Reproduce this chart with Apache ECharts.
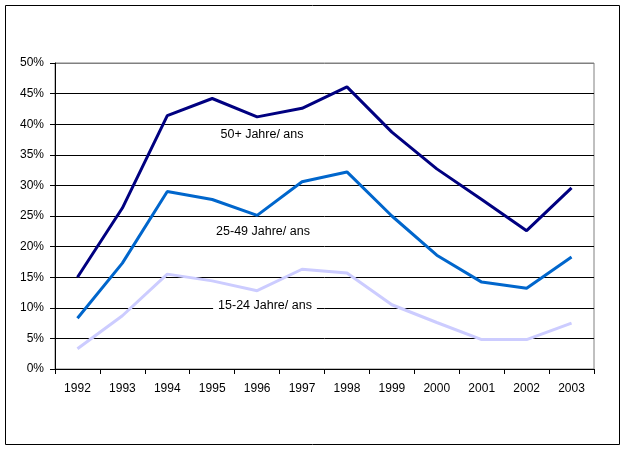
<!DOCTYPE html>
<html><head><meta charset="utf-8">
<script src="https://cdn.jsdelivr.net/npm/echarts@6/dist/echarts.min.js"></script>
<style>html,body{margin:0;padding:0;background:#fff}#c{width:626px;height:451px}</style>
</head><body><div id="c"></div>
<script>
const years = ['1992','1993','1994','1995','1996','1997','1998','1999','2000','2001','2002','2003'];
const age50 = [15.0,26.3,41.4,44.2,41.2,42.6,46.1,38.7,32.7,27.7,22.6,29.6];
const age25 = [8.3,17.3,29.0,27.7,25.1,30.6,32.2,25.0,18.6,14.2,13.2,18.3];
const age15 = [3.3,8.7,15.5,14.4,12.8,16.3,15.7,10.5,7.6,4.8,4.8,7.5];
const seriesNames = ['50+ Jahre/ ans','25-49 Jahre/ ans','15-24 Jahre/ ans'];

const chart = echarts.init(document.getElementById('c'));
const font = 'Liberation Sans, Arial, sans-serif';
const gridColors = ['#000','#000','#000','#000','#000','#000','#000','#000','#000','#000','#808080'];
chart.setOption({
  animation:false,
  grid:{left:55,right:32,top:63,bottom:82,show:true,borderColor:'#808080',borderWidth:1,backgroundColor:'#fff'},
  xAxis:{type:'category',data:years,boundaryGap:true,
    axisLine:{lineStyle:{color:'#000',width:1}},
    axisTick:{show:true,length:5,lineStyle:{color:'#000'}},
    axisLabel:{color:'#000',fontFamily:font,fontSize:12,margin:14}},
  yAxis:{type:'value',min:0,max:50,interval:5,
    axisLine:{show:true,lineStyle:{color:'#000',width:1}},
    axisTick:{show:true,length:5,lineStyle:{color:'#000'}},
    axisLabel:{color:'#000',fontFamily:font,fontSize:12,margin:11,formatter:'{value}%'},
    splitLine:{show:true,lineStyle:{color:gridColors,width:1}}},
  series:[
    {name:seriesNames[0],type:'line',data:age50,symbol:'none',lineStyle:{color:'#000080',width:3},z:4},
    {name:seriesNames[1],type:'line',data:age25,symbol:'none',lineStyle:{color:'#0066CC',width:3},z:3},
    {name:seriesNames[2],type:'line',data:age15,symbol:'none',lineStyle:{color:'#CCCCFF',width:3},z:2}
  ],
  graphic:[
    {type:'rect',shape:{x:5.5,y:5.5,width:614,height:439},style:{fill:'none',stroke:'#000',lineWidth:1},z:100},
    {type:'text',x:262,y:135,style:{text:seriesNames[0],font:'12.5px '+font,fill:'#000',textAlign:'center',textVerticalAlign:'middle'},z:100},
    {type:'text',x:263,y:232,style:{text:seriesNames[1],font:'12.5px '+font,fill:'#000',textAlign:'center',textVerticalAlign:'middle'},z:100},
    {type:'text',x:265,y:306,style:{text:seriesNames[2],font:'12.5px '+font,fill:'#000',textAlign:'center',textVerticalAlign:'middle',backgroundColor:'#fff',padding:[1,5]},z:100}
  ]
});
</script></body></html>
